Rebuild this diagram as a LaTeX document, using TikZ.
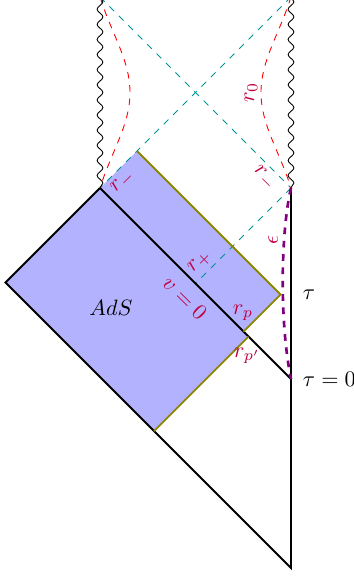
\documentclass[tikz,border=0pt]{standalone}
\usepackage{amsmath,amssymb}
\usepackage{xcolor}
\usepackage{tikz}
\usetikzlibrary{decorations.pathmorphing, calc}

\begin{document}
\begin{tikzpicture}[
    x=0.45pt, y=-0.45pt,
    bdry/.style={draw=black, thick},
    nullray/.style={draw=teal!85!cyan, dashed},
    rcurve/.style={draw=red, dashed},
    singular/.style={draw=black, decorate, decoration={snake, amplitude=1.3pt, segment length=6.8pt}},
    shelledge/.style={draw=olive, thick},
    shellfill/.style={fill=blue!30},
    cutoff/.style={draw=violet, very thick, dashed},
    lbl/.style={text=purple, inner sep=1pt}
  ]
    \useasboundingbox (0,0) rectangle (354,576);

    % corners of the diagram
    \coordinate (TL) at (100,-3);
    \coordinate (TR) at (291,-3);
    \coordinate (A) at (100,188);
    \coordinate (R) at (291,188);
    \coordinate (L) at (5.5,282.5);
    \coordinate (B) at (291,568);
    \coordinate (T0) at (291,379);
    \coordinate (H) at ($(A)!0.5!(T0)$);
    % shell region
    \coordinate (C) at (137,151);
    \coordinate (D) at (280.5,294.5);
    \coordinate (P) at (243.5,331.5);
    \coordinate (Pq) at (248.5,336.5);
    \coordinate (E) at (154,431);

    \path[shellfill] (L) -- (C) -- (D) -- (P) -- (Pq) -- (E) -- cycle;

    % horizons and r = const curves
    \path[nullray] (TL) -- (R);
    \path[nullray] (TR) -- (A);
    \path[nullray] (R) -- (H);
    \path[rcurve] (TL) .. controls (112,35) and (130,60) .. (130,92.5) .. controls (130,125) and (112,150) .. (A);
    \path[rcurve] (TR) .. controls (279,35) and (261,60) .. (261,92.5) .. controls (261,125) and (279,150) .. (R);

    % singularities
    \path[singular] (TL) -- (A);
    \path[singular] (TR) -- (R);

    % boundaries
    \path[bdry] (A) -- (L) -- (B) -- (R);
    \path[bdry] (A) -- (T0);
    \path[shelledge] (C) -- (D) -- (P);
    \path[shelledge] (Pq) -- (E);
    \path[cutoff] (R) .. controls (281,230) and (279,320) .. (T0);

    % labels
    \node[lbl, rotate=90] (r0) at (251,93) {$r_0$};
    \node[lbl, rotate=45] (rmL) at (123,182) {$r_-$};
    \node[lbl, rotate=-45] (rmR) at (264,178) {$r_-$};
    \node[lbl, rotate=45] (rplus) at (200,262) {$r_+$};
    \node[lbl, rotate=-45] (v0) at (185,298) {$v=0$};
    \node[lbl] (rp) at (243,313) {$r_p$};
    \node[lbl] (rpq) at (247,356) {$r_{p'}$};
    \node[lbl, rotate=90] (eps) at (273,240) {$\epsilon$};
    \node (ads) at (111,308) {$AdS$};
    \node[anchor=west] (tau) at (295,294.5) {$\tau$};
    \node[anchor=west] (tau0) at (295,379) {$\tau=0$};
\end{tikzpicture}
\end{document}
